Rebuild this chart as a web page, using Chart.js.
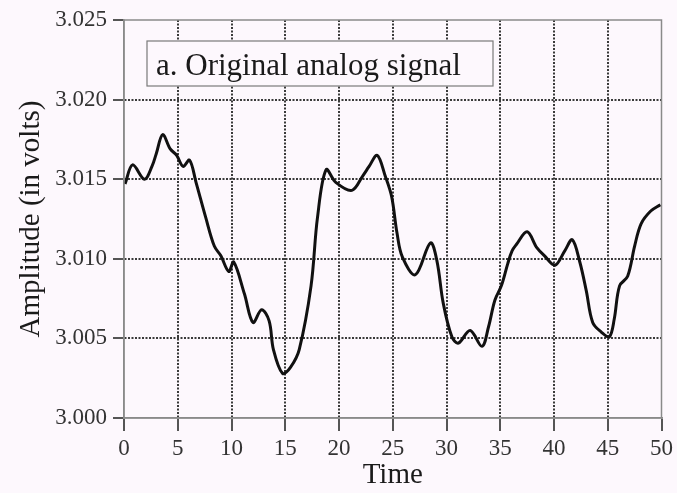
<!DOCTYPE html>
<html>
<head>
<meta charset="utf-8">
<script src="https://cdn.jsdelivr.net/npm/chart.js@4/dist/chart.umd.min.js"></script>
<style>
  html, body { margin: 0; padding: 0; background: #fdf8fd; }
  #wrap { width: 677px; height: 493px; }
</style>
</head>
<body>
<div id="wrap"><canvas id="signalChart" width="677" height="493"></canvas></div>
<script>
// values
const times = [0.1, 0.8, 1.9, 2.6, 3.0, 3.6, 4.3, 4.9, 5.5, 6.1, 6.7, 7.6, 8.4, 9.0, 9.75, 10.2,
  11.2, 12.0, 12.8, 13.5, 13.9, 14.75, 15.5, 16.3, 17.4, 18.0, 18.8, 19.7, 21.2, 22.2, 22.8,
  23.55, 24.3, 24.9, 25.4, 25.9, 27.1, 28.5, 29.1, 29.7, 30.5, 31.1, 32.2, 33.3, 33.9, 34.5,
  35.1, 35.7, 36.1, 36.5, 37.5, 38.4, 39.1, 40.1, 41.0, 41.7, 42.4, 43.0, 43.6, 44.4, 45.15,
  45.6, 46.1, 46.85, 47.5, 48.1, 49.0, 49.9];
const amplitude = [3.0147, 3.0159, 3.0150, 3.0158, 3.0166, 3.0178, 3.0169, 3.0165, 3.0158, 3.0162,
  3.0148, 3.0126, 3.0108, 3.0102, 3.0092, 3.0098, 3.0078, 3.0060, 3.0068, 3.0061, 3.0043,
  3.0028, 3.0032, 3.0043, 3.0083, 3.0126, 3.0156, 3.0148, 3.0143, 3.0152, 3.0158, 3.0165,
  3.0152, 3.0139, 3.0116, 3.0101, 3.0090, 3.0110, 3.0099, 3.0072, 3.0051, 3.0047, 3.0055,
  3.0045, 3.0057, 3.0074, 3.0083, 3.0097, 3.0105, 3.0109, 3.0117, 3.0107, 3.0102, 3.0096,
  3.0105, 3.0112, 3.0098, 3.0080, 3.0060, 3.0054, 3.0051, 3.0062, 3.0083, 3.0089, 3.0108,
  3.0122, 3.0130, 3.0134];
const xTicks = [0, 5, 10, 15, 20, 25, 30, 35, 40, 45, 50];
const yTicks = [3.000, 3.005, 3.010, 3.015, 3.020, 3.025];
const panelLabel = "a. Original analog signal";

const serif = "'Liberation Serif', 'Times New Roman', serif";
const gridColor = (ctx) => {
  const n = ctx.chart.scales[ctx.scale.id].ticks.length;
  return (ctx.index === 0 || ctx.index === n - 1) ? "rgba(0,0,0,0)" : "#3a3a3a";
};

// solid frame round the plot plus the boxed panel label
const framePlugin = {
  id: "frame",
  beforeDraw(chart) {
    const c = chart.ctx;
    c.save();
    c.fillStyle = "#fdf8fd";
    c.fillRect(0, 0, chart.width, chart.height);
    c.restore();
  },
  afterDraw(chart) {
    const { left, right, top, bottom } = chart.chartArea;
    const c = chart.ctx;
    c.save();
    c.strokeStyle = "#8a8a8a";
    c.lineWidth = 1.5;
    c.strokeRect(left, top, right - left, bottom - top);
    // label box
    const bx = left + 23, by = top + 21, bw = 346, bh = 45;
    c.fillStyle = "#fdf8fd";
    c.fillRect(bx, by, bw, bh);
    c.strokeStyle = "#7a7a7a";
    c.lineWidth = 1.2;
    c.strokeRect(bx, by, bw, bh);
    c.fillStyle = "#1a1a1a";
    c.font = "31px " + serif;
    c.textBaseline = "alphabetic";
    c.fillText(panelLabel, bx + 9, by + 34);
    c.restore();
  }
};

new Chart(document.getElementById("signalChart").getContext("2d"), {
  type: "line",
  data: {
    datasets: [{
      label: "Amplitude",
      data: times.map((t, i) => ({ x: t, y: amplitude[i] })),
      borderColor: "#111111",
      borderWidth: 3,
      pointRadius: 0,
      fill: false,
      tension: 0.35
    }]
  },
  options: {
    responsive: false,
    animation: false,
    devicePixelRatio: 1,
    layout: { padding: { top: 20, right: 13, left: 0, bottom: 0 } },
    plugins: { legend: { display: false }, tooltip: { enabled: false } },
    scales: {
      x: {
        type: "linear",
        min: 0,
        max: 50,
        afterBuildTicks: (s) => { s.ticks = xTicks.map((v) => ({ value: v })); },
        afterFit: (s) => { s.height = 75; },
        grid: {
          color: gridColor,
          lineWidth: 2,
          tickColor: "#555",
          tickLength: 13,
          drawTicks: true
        },
        border: { display: true, color: "#8a8a8a", width: 1.5, dash: [2, 1.5] },
        ticks: {
          color: "#333",
          font: { family: serif, size: 23 },
          padding: 4,
          maxRotation: 0,
          callback: (v) => String(v)
        },
        title: {
          display: true,
          text: "Time",
          color: "#1a1a1a",
          font: { family: serif, size: 29 },
          padding: { top: 0, bottom: 0 }
        }
      },
      y: {
        type: "linear",
        min: 3.0,
        max: 3.025,
        afterBuildTicks: (s) => { s.ticks = yTicks.map((v) => ({ value: v })); },
        afterFit: (s) => { s.width = 124; },
        grid: {
          color: gridColor,
          lineWidth: 2,
          tickColor: "#555",
          tickLength: 11,
          drawTicks: true
        },
        border: { display: true, color: "#8a8a8a", width: 1.5, dash: [2, 1.5] },
        ticks: {
          color: "#333",
          font: { family: serif, size: 23 },
          padding: 6,
          callback: (v) => v.toFixed(3)
        },
        title: {
          display: true,
          text: "Amplitude (in volts)",
          color: "#1a1a1a",
          font: { family: serif, size: 29 },
          padding: { top: 14, bottom: 0 }
        }
      }
    }
  },
  plugins: [framePlugin]
});
</script>
</body>
</html>
